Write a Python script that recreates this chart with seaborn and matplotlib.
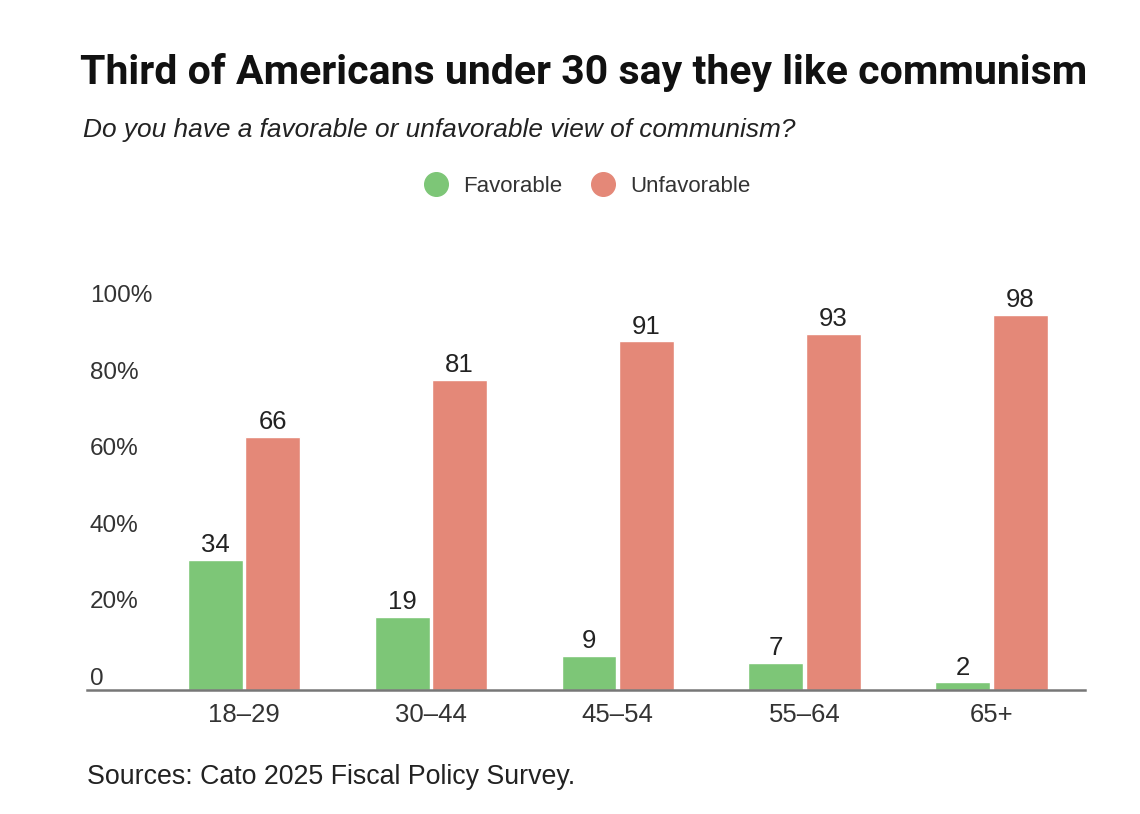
import pandas as pd
import matplotlib.pyplot as plt
import seaborn as sns
from matplotlib import font_manager as fm
from matplotlib.lines import Line2D

ages = ['18–29', '30–44', '45–54', '55–64', '65+']
favorable = [34, 19, 9, 7, 2]
unfavorable = [66, 81, 91, 93, 98]
views = ['Favorable', 'Unfavorable']
yticks = [0, 20, 40, 60, 80, 100]
ylabels = ['0', '20%', '40%', '60%', '80%', '100%']

green = '#7DC677'
red = '#E48878'

df = pd.DataFrame({
    'age': ages * 2,
    'pct': favorable + unfavorable,
    'view': [views[0]] * len(ages) + [views[1]] * len(ages),
})


def has_font(name):
    try:
        fm.findfont(fm.FontProperties(family=name), fallback_to_default=False)
        return True
    except Exception:
        return False


sns.set_style('white')
base = 'Liberation Sans'
plt.rcParams['font.family'] = [base, 'DejaVu Sans']
title_font = 'Liberation Sans Narrow' if has_font('Liberation Sans Narrow') else 'Roboto'

fig = plt.figure(figsize=(11.4, 8.14), dpi=100)
ax = fig.add_axes([87 / 1140, 1 - 690 / 814, (1085 - 87) / 1140, (690 - 307) / 814])

sns.barplot(data=df, x='age', y='pct', hue='view', palette=[green, red],
            width=0.615, gap=0.045, saturation=1, legend=False, ax=ax)

for c in ax.containers:
    ax.bar_label(c, padding=2, fontsize=18.5, color='#222222')

ax.set_xlim(-0.84, 4.5)
ax.set_ylim(0, 100)
ax.set_yticks(yticks)
ax.set_yticklabels(ylabels)
for lab in ax.get_yticklabels():
    lab.set_ha('left')
    lab.set_va('bottom')
ax.tick_params(axis='y', length=0, pad=-2, labelsize=17.5, labelcolor='#333333')
ax.tick_params(axis='x', length=0, pad=9, labelsize=18.5, labelcolor='#333333')
ax.set_xlabel('')
ax.set_ylabel('')
for s in ['top', 'right', 'left']:
    ax.spines[s].set_visible(False)
ax.spines['bottom'].set_color('#777777')
ax.spines['bottom'].set_linewidth(1.8)
for t in ax.texts:
    t.set_clip_on(False)

fig.text(80 / 1140, 1 - 72 / 814, 'Third of Americans under 30 say they like communism',
         fontsize=29.5, fontweight='bold', family=[title_font, 'DejaVu Sans'],
         color='#111111', va='center', ha='left')
fig.text(83 / 1140, 1 - 130 / 814, 'Do you have a favorable or unfavorable view of communism?',
         fontsize=18.9, style='italic', color='#222222', va='center', ha='left')
fig.text(87 / 1140, 1 - 777 / 814, 'Sources: Cato 2025 Fiscal Policy Survey.',
         fontsize=19.3, color='#222222', va='center', ha='left')

handles = [Line2D([], [], marker='o', linestyle='none', markersize=17,
                  markerfacecolor=col, markeredgecolor=col) for col in [green, red]]
fig.legend(handles, views, loc='center', bbox_to_anchor=(582 / 1140, 1 - 186 / 814),
           ncol=2, frameon=False, fontsize=16, handletextpad=0.25, columnspacing=0.8,
           labelcolor='#333333')

fig.savefig('out.png', dpi=100)
